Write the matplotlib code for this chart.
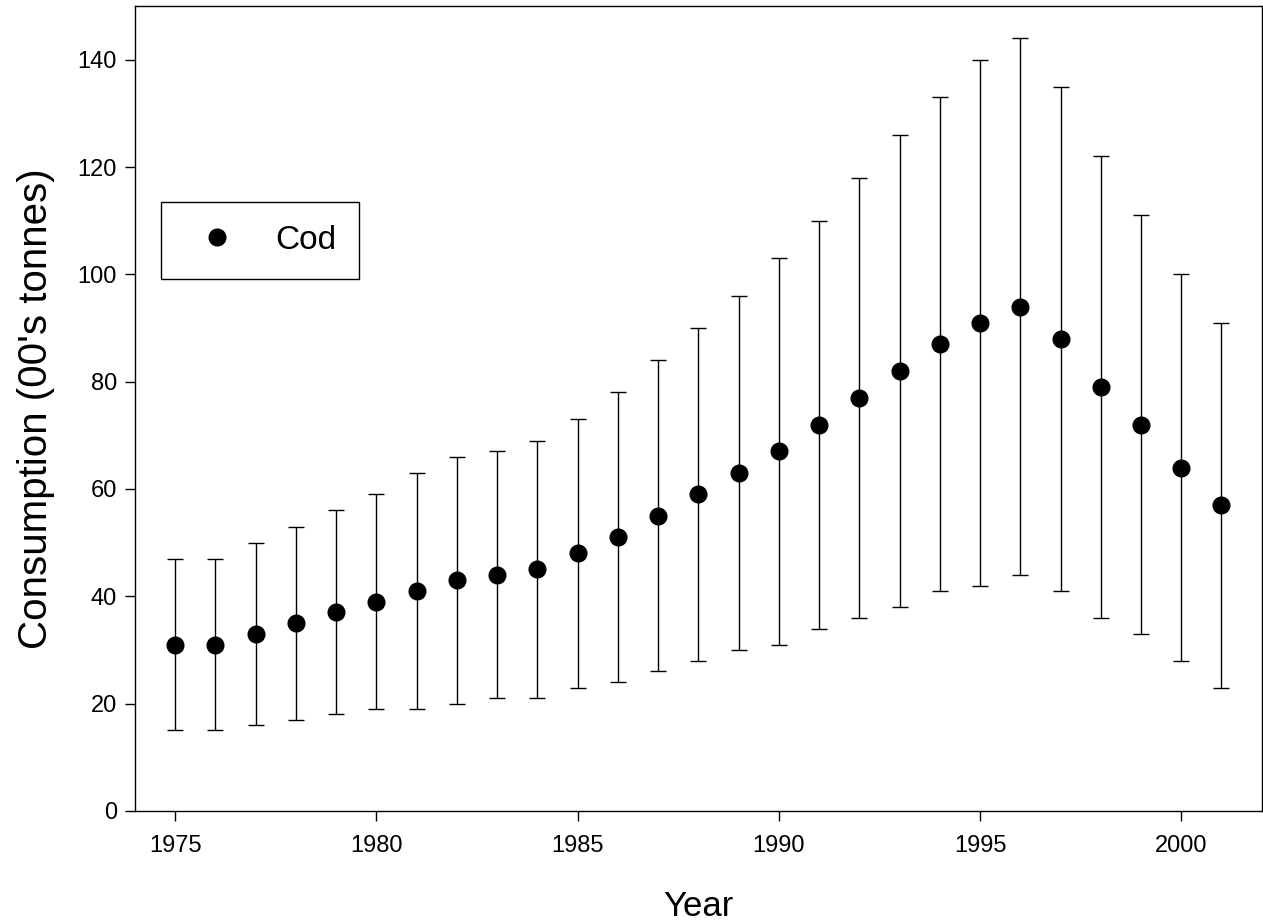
import matplotlib
matplotlib.use("Agg")
import matplotlib.pyplot as plt
from matplotlib.ticker import MultipleLocator
from matplotlib.lines import Line2D
import numpy as np

plt.rcParams['font.family'] = ['Liberation Sans', 'DejaVu Sans']

# Annual cod consumption estimates with lower / upper bounds (00's tonnes)
years = [1975, 1976, 1977, 1978, 1979, 1980, 1981, 1982, 1983, 1984,
         1985, 1986, 1987, 1988, 1989, 1990, 1991, 1992, 1993, 1994,
         1995, 1996, 1997, 1998, 1999, 2000, 2001]
consumption = [31, 31, 33, 35, 37, 39, 41, 43, 44, 45,
               48, 51, 55, 59, 63, 67, 72, 77, 82, 87,
               91, 94, 88, 79, 72, 64, 57]
lower = [15, 15, 16, 17, 18, 19, 19, 20, 21, 21,
         23, 24, 26, 28, 30, 31, 34, 36, 38, 41,
         42, 44, 41, 36, 33, 28, 23]
upper = [47, 47, 50, 53, 56, 59, 63, 66, 67, 69,
         73, 78, 84, 90, 96, 103, 110, 118, 126, 133,
         140, 144, 135, 122, 111, 100, 91]

x = np.array(years)
y = np.array(consumption)
yerr = np.vstack([y - np.array(lower), np.array(upper) - y])

fig = plt.figure(figsize=(12.63, 9.24), dpi=100)
ax = fig.add_axes([0.1069, 0.1223, 0.8921, 0.8712])

ax.errorbar(x, y, yerr=yerr, fmt='o', color='black', ecolor='black',
            markersize=12, elinewidth=1.0, capsize=6, capthick=1.0,
            zorder=3)

ax.set_xlim(1974, 2002)
ax.set_ylim(0, 150)
ax.xaxis.set_major_locator(MultipleLocator(5))
ax.set_yticks(np.arange(0, 141, 20))

ax.tick_params(axis='both', direction='out', length=7, width=1.0,
               labelsize=17, pad=6)
ax.tick_params(axis='x', pad=10)
for s in ax.spines.values():
    s.set_linewidth(1.0)

ax.set_xlabel('Year', fontsize=25, labelpad=24)
ax.set_ylabel("Consumption (00's tonnes)", fontsize=29, labelpad=16)

# Legend shows the marker only (no error bar glyph)
handle = Line2D([], [], linestyle='none', marker='o', color='black',
                markersize=12)
leg = ax.legend([handle], ['Cod'], loc='upper left',
                bbox_to_anchor=(0.0231, 0.7565),
                fontsize=24, frameon=True, fancybox=False,
                edgecolor='black', framealpha=1, borderpad=0.69,
                handlelength=1.98, handletextpad=0.75, borderaxespad=0)
leg.get_frame().set_linewidth(1.0)

fig.savefig('out.png', dpi=100)
